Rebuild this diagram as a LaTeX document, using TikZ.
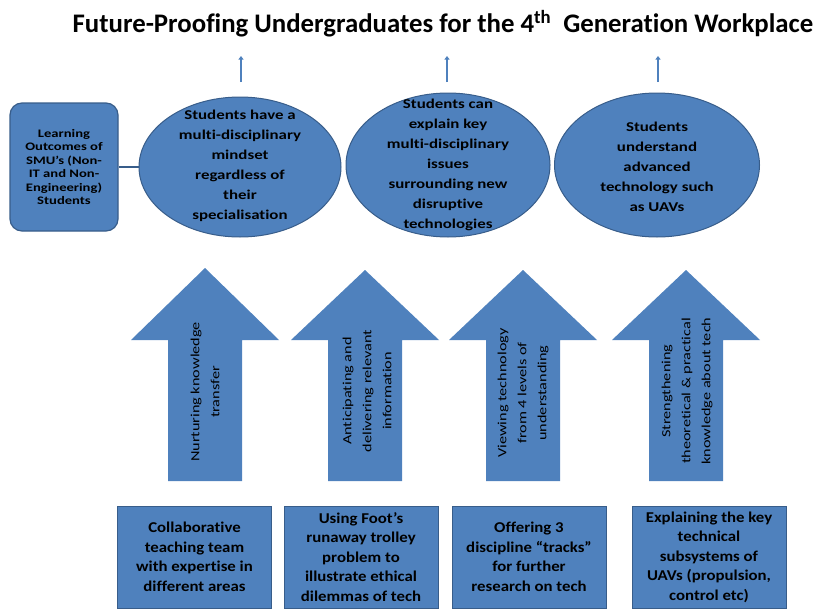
\documentclass[tikz,border=0pt]{standalone}
\usepackage{fontspec}
\setmainfont{Carlito}[Ligatures={NoCommon},Contextuals={NoAlternate}]
\newfontfamily\ellfont{Carlito}[FakeStretch=1.25,Ligatures={NoCommon},Contextuals={NoAlternate}]
\newfontfamily\boxfont{Carlito}[FakeStretch=1.12,Ligatures={NoCommon},Contextuals={NoAlternate}]
\newfontfamily\lofont{Carlito}[FakeStretch=1.27,Ligatures={NoCommon},Contextuals={NoAlternate}]
\newfontfamily\arrfont{Carlito}[FakeStretch=1.3,Ligatures={NoCommon},Contextuals={NoAlternate}]
\usetikzlibrary{arrows.meta,shapes.geometric}
\definecolor{ofblue}{RGB}{79,129,189}
\definecolor{ofborder}{RGB}{56,93,138}
\newcommand\bigup[2]{%
  \fill[bigarrow] (#1,#2) -- (#1+74,340) -- (#1+37,340) -- (#1+37,481)
    -- (#1-37,481) -- (#1-37,340) -- (#1-74,340) -- cycle;}
\begin{document}
\begin{tikzpicture}[x=1pt,y=-1pt,
  titlefont/.style={font=\bfseries\fontsize{26.8}{30}\selectfont},
  lobox/.style={draw=ofborder, line width=1.2pt, fill=ofblue, rounded corners=12pt,
    minimum width=108pt, minimum height=128pt, inner sep=0pt, align=center,
    font=\lofont\bfseries\fontsize{11.5}{13.4}\selectfont},
  outcome/.style={ellipse, draw=ofborder, line width=1pt, fill=ofblue, inner sep=0pt},
  etext/.style={align=center, inner sep=0pt, font=\ellfont\bfseries\fontsize{13.5}{20}\selectfont},
  bigarrow/.style={fill=ofblue},
  atext/.style={rotate=90, align=center, inner sep=0pt, font=\arrfont\fontsize{12.5}{20}\selectfont},
  method/.style={draw=ofborder, line width=1pt, fill=ofblue, minimum width=154pt,
    minimum height=102pt, align=center, inner sep=0pt,
    font=\boxfont\bfseries\fontsize{15}{19.5}\selectfont},
  smallarrow/.style={draw=ofblue, line width=2.4pt, -{Triangle[length=3.5pt,width=5pt]}},
  link/.style={draw=ofborder, line width=2pt}]
\useasboundingbox (0,0) rectangle (818,610);

% title
\node[titlefont, anchor=base] (title) at (443,33)
  {Future-Proofing Undergraduates for the 4\textsuperscript{th}\ \ Generation Workplace};

% small arrows toward the title
\coordinate (s1b) at (241,82); \coordinate (s1t) at (241,56);
\coordinate (s2b) at (447,82); \coordinate (s2t) at (447,56);
\coordinate (s3b) at (658,82); \coordinate (s3t) at (658,56);
\draw[smallarrow] (s1b) -- (s1t);
\draw[smallarrow] (s2b) -- (s2t);
\draw[smallarrow] (s3b) -- (s3t);

% learning outcomes box and ellipses
\node[outcome, minimum width=202pt, minimum height=140pt] (e1) at (240,167) {};
\node[outcome, minimum width=204pt, minimum height=144pt] (e2) at (448,165) {};
\node[outcome, minimum width=205pt, minimum height=144pt] (e3) at (657,165) {};
\node[lobox] (lo) at (64,167) {Learning\\Outcomes of\\SMU’s (Non-\\IT and Non-\\Engineering)\\Students};
\draw[link] (lo.east) -- (e1.west);

\node[etext] (t1) at (240,166) {Students have a\\multi-disciplinary\\mindset\\regardless of\\their\\specialisation};
\node[etext] (t2) at (448,165) {Students can\\explain key\\multi-disciplinary\\issues\\surrounding new\\disruptive\\technologies};
\node[etext] (t3) at (657,167) {Students\\understand\\advanced\\technology such\\as UAVs};

% big arrows
\bigup{205}{268}
\bigup{365}{270}
\bigup{523}{270}
\bigup{686}{270}
\node[atext] (a1) at (205,392) {Nurturing knowledge\\transfer};
\node[atext] (a2) at (367,391) {Anticipating and\\delivering relevant\\information};
\node[atext] (a3) at (523,393) {Viewing technology\\from 4 levels of\\understanding};
\node[atext] (a4) at (687,391) {Strengthening\\theoretical \& practical\\knowledge about tech};

% bottom boxes
\node[method] (m1) at (194.5,557) {Collaborative\\teaching team\\with expertise in\\different areas};
\node[method] (m2) at (361,557) {Using Foot’s\\runaway trolley\\problem to\\illustrate ethical\\dilemmas of tech};
\node[method] (m3) at (529,557) {Offering 3\\discipline “tracks”\\for further\\research on tech};
\node[method] (m4) at (709,557) {Explaining the key\\technical\\subsystems of\\UAVs (propulsion,\\control etc)};
\end{tikzpicture}
\end{document}
